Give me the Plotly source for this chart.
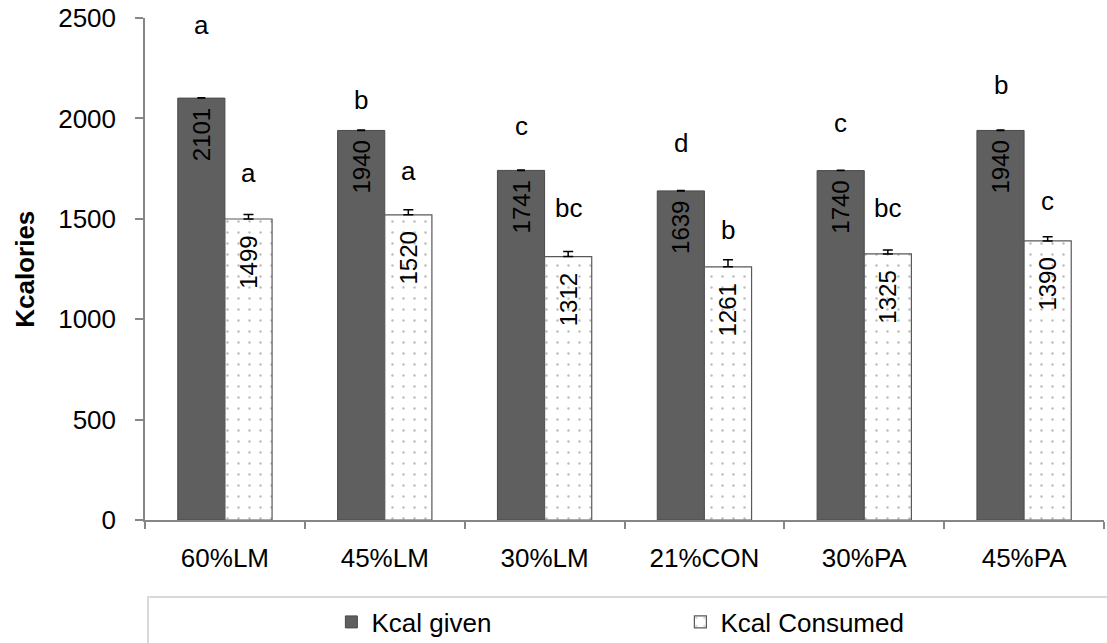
import plotly.graph_objects as go

categories = ["60%LM", "45%LM", "30%LM", "21%CON", "30%PA", "45%PA"]
kcal_given = [2101, 1940, 1741, 1639, 1740, 1940]
kcal_given_err = [2, 2, 2, 2, 2, 2]
kcal_consumed = [1499, 1520, 1312, 1261, 1325, 1390]
kcal_consumed_err = [22, 25, 25, 35, 20, 20]
sig_given = ["a", "b", "c", "d", "c", "b"]
sig_consumed = ["a", "a", "bc", "b", "bc", "c"]
# label heights (data units)
sig_given_y = [2465, 2092, 1962, 1877, 1977, 2166]
sig_consumed_y = [1728, 1738, 1554, 1444, 1554, 1589]
y_ticks = [0, 500, 1000, 1500, 2000, 2500]

FONT = "Liberation Sans, Arial, sans-serif"
FS = 26
NB = "\u00a0"

fig = go.Figure()
fig.add_trace(go.Bar(
    name="Kcal given", x=categories, y=kcal_given,
    marker=dict(color="#5f5f5f", line=dict(color="#4a4a4a", width=1)),
    error_y=dict(type="data", array=kcal_given_err, symmetric=False,
                 arrayminus=[0] * len(kcal_given_err),
                 color="#000000", thickness=1.5, width=4),
    text=kcal_given, texttemplate="%{y}" + NB,
    textposition="inside", insidetextanchor="end", textangle=-90,
    textfont=dict(size=24, color="#000000", family=FONT),
    constraintext="none",
))
fig.add_trace(go.Bar(
    name="Kcal Consumed", x=categories, y=kcal_consumed,
    marker=dict(color="#ffffff", line=dict(color="#595959", width=1.2),
                pattern=dict(shape=".", fgcolor="#7a7a7a", bgcolor="#ffffff",
                             size=11, solidity=0.04, fillmode="overlay")),
    error_y=dict(type="data", array=kcal_consumed_err, symmetric=False,
                 arrayminus=[0] * len(kcal_consumed_err),
                 color="#000000", thickness=1.5, width=5),
    text=kcal_consumed, texttemplate="%{y}" + NB * 2,
    textposition="inside", insidetextanchor="end", textangle=-90,
    textfont=dict(size=24, color="#000000", family=FONT),
    constraintext="none",
))

annotations = []
for i, c in enumerate(categories):
    annotations.append(dict(x=c, y=sig_given_y[i], text=sig_given[i], xref="x", yref="y",
                            xshift=-23.5, showarrow=False,
                            font=dict(size=FS, color="#000000", family=FONT)))
    annotations.append(dict(x=c, y=sig_consumed_y[i], text=sig_consumed[i], xref="x", yref="y",
                            xshift=23.5, showarrow=False,
                            font=dict(size=FS, color="#000000", family=FONT)))
annotations.append(dict(x=(25 - 145) / 957, xanchor="center", y=0.5, xref="paper", yref="paper",
                        text="<b>Kcalories</b>", textangle=-90, showarrow=False,
                        font=dict(size=FS, color="#000000", family=FONT)))

fig.update_layout(
    width=1107, height=643,
    margin=dict(l=145, r=3, t=18, b=123, autoexpand=False),
    paper_bgcolor="#ffffff", plot_bgcolor="#ffffff",
    barmode="group", bargap=0.41, bargroupgap=0,
    font=dict(family=FONT, size=FS, color="#000000"),
    showlegend=True,
    legend=dict(orientation="h", x=(331 - 145) / 957, xanchor="left",
                yref="container", y=1 - 622 / 643, yanchor="middle",
                entrywidth=304, entrywidthmode="pixels",
                font=dict(size=FS, family=FONT, color="#000000"),
                bgcolor="rgba(0,0,0,0)", borderwidth=0),
    annotations=annotations,
    shapes=[dict(type="rect", xref="paper", yref="paper",
                 x0=(148 - 145) / 957, x1=1.05, y0=(520 - 597) / 502, y1=(520 - 660) / 502,
                 line=dict(color="#d9d9d9", width=2), fillcolor="rgba(0,0,0,0)", layer="below")],
)
fig.update_xaxes(
    range=[-0.5, 5.5], showgrid=False, showline=True, linecolor="#868686", linewidth=1.5,
    ticks="outside", ticklen=7, tickcolor="#868686", tickwidth=1.5, tickson="boundaries",
    ticklabelstandoff=14, tickfont=dict(size=FS, family=FONT, color="#000000"),
    automargin=False,
)
fig.update_yaxes(
    range=[0, 2500], tickvals=y_ticks, showgrid=False, zeroline=False,
    showline=True, linecolor="#868686", linewidth=1.5,
    ticks="outside", ticklen=8, tickcolor="#868686", tickwidth=1.5,
    ticklabelstandoff=14, tickfont=dict(size=FS, family=FONT, color="#000000"),
    automargin=False,
)

fig.write_html("out.html")
